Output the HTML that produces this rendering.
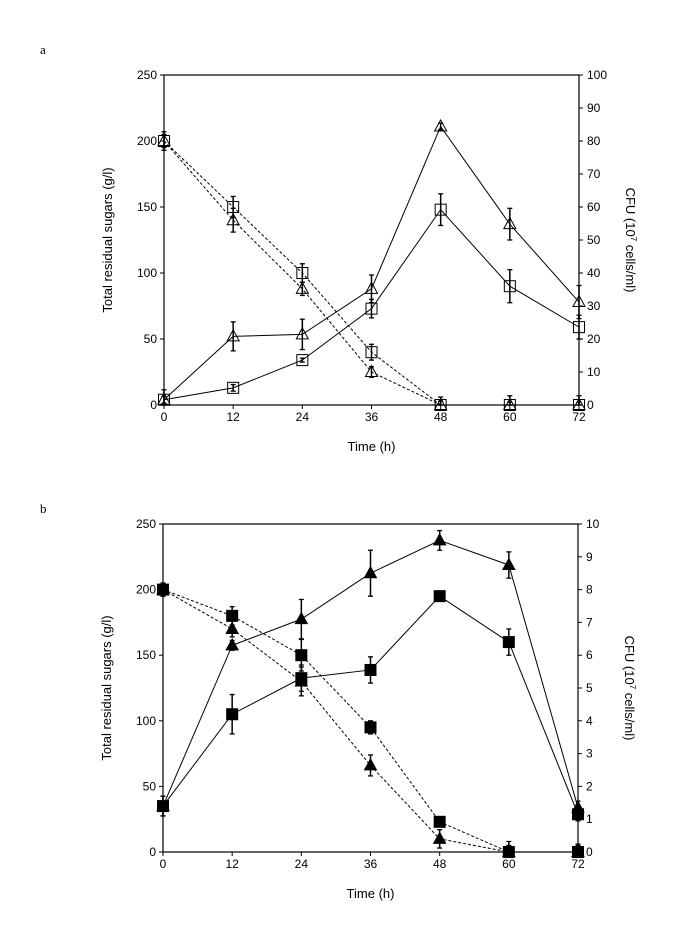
<!DOCTYPE html>
<html><head><meta charset="utf-8">
<style>
html,body{margin:0;padding:0;background:#fff;}
svg{display:block;font-family:"Liberation Sans",Arial,sans-serif;}
</style></head>
<body>
<svg id="fig" width="685" height="941" viewBox="0 0 685 941" xmlns="http://www.w3.org/2000/svg"></svg>
<script>
// ---- data ----
const times = [0, 12, 24, 36, 48, 60, 72];
const xTicks = [0, 12, 24, 36, 48, 60, 72];
const leftTicks = [0, 50, 100, 150, 200, 250];
const rightTicksA = [0,10,20,30,40,50,60,70,80,90,100];
const rightTicksB = [0,1,2,3,4,5,6,7,8,9,10];
// Panel a
const aSugarSq = [200, 150, 100, 40, 0, 0, 0];
const aSugarSqErr = [5, 8, 7, 6, 3, 2, 2];
const aSugarTri = [200, 140, 88, 25, 0, 0, 0];
const aSugarTriErr = [7, 9, 5, 4, 6, 7, 7];
const aCfuTri = [1.6, 20.8, 21.4, 35.2, 84.4, 54.8, 31.2];
const aCfuTriErr = [3, 4.4, 4.6, 4.2, 1, 4.8, 5];
const aCfuSq = [1.6, 5.2, 13.6, 29.2, 59.2, 36, 23.6];
const aCfuSqErr = [1, 1, 0.6, 2.8, 4.8, 5, 3.6];
// Panel b
const bSugarSq = [200, 180, 150, 95, 23, 0, 0];
const bSugarSqErr = [5, 7, 12, 5, 2, 8, 6];
const bSugarTri = [200, 170, 130, 66, 10, 0, 0];
const bSugarTriErr = [5, 6, 11, 8, 7, 5, 5];
const bCfuTri = [1.4, 6.3, 7.1, 8.5, 9.5, 8.75, 1.35];
const bCfuTriErr = [0.3, 0.15, 0.6, 0.7, 0.3, 0.4, 0.2];
const bCfuSq = [1.4, 4.2, 5.3, 5.55, 7.8, 6.4, 1.15];
const bCfuSqErr = [0.3, 0.6, 0.4, 0.4, 0.1, 0.4, 0.2];

const NS = "http://www.w3.org/2000/svg";
const svg = document.getElementById('fig');
function el(tag, attrs, parent) {
  const e = document.createElementNS(NS, tag);
  for (const k in attrs) e.setAttribute(k, attrs[k]);
  (parent || svg).appendChild(e);
  return e;
}

function panel(cfg) {
  const g = el('g', {});
  
  
  const L = cfg.left, R = cfg.right, T = cfg.top, B = cfg.bottom;
  const xs = v => L + (v - 0) / 72 * (R - L);
  const yl = v => B - v / 250 * (B - T);
  const yr = v => B - v / cfg.rmax * (B - T);

  const frame = el('rect', {x: L, y: T, width: R - L, height: B - T, fill: 'none', stroke: '#000', 'stroke-width': 1.2}, g);
  
  

  const fs = 12;
  xTicks.forEach(t => {
    const x = xs(t);
    el('line', {x1: x, y1: B, x2: x, y2: B + 4, stroke: '#000'}, g);
    const tx = el('text', {x: x, y: B + 16, 'font-size': fs, 'text-anchor': 'middle'}, g);
    tx.textContent = t;
    
    
  });
  leftTicks.forEach(t => {
    const y = yl(t);
    el('line', {x1: L - 4, y1: y, x2: L, y2: y, stroke: '#000'}, g);
    const tx = el('text', {x: L - 7, y: y + 4, 'font-size': fs, 'text-anchor': 'end'}, g);
    tx.textContent = t;
    
    
  });
  cfg.rticks.forEach(t => {
    const y = yr(t);
    el('line', {x1: R, y1: y, x2: R + 4, y2: y, stroke: '#000'}, g);
    const tx = el('text', {x: R + 8, y: y + 4, 'font-size': fs, 'text-anchor': 'start'}, g);
    tx.textContent = t;
    
    
  });
  const xt = el('text', {x: (L + R) / 2, y: B + 46, 'font-size': 13, 'text-anchor': 'middle'}, g);
  xt.textContent = 'Time (h)';
  
  
  const cy = (T + B) / 2;
  const yt = el('text', {x: 0, y: 0, 'font-size': 13, 'text-anchor': 'middle', transform: `translate(${L - 52},${cy}) rotate(-90)`}, g);
  yt.textContent = 'Total residual sugars (g/l)';
  
  
  const rt = el('text', {x: 0, y: 0, 'font-size': 13, 'text-anchor': 'middle', transform: `translate(${R + 47},${cy}) rotate(90)`}, g);
  rt.innerHTML = 'CFU (10<tspan font-size="8" dy="-5">7</tspan><tspan dy="5"> cells/ml)</tspan>';
  
  
  const pl = el('text', {x: 40, y: cfg.labelY, 'font-size': 13, 'font-family': 'Liberation Serif, serif'}, g);
  pl.textContent = cfg.label;
  
  

  function series(vals, errs, yf, marker, filled, dashed, name) {
    const sg = el('g', {}, g);
    
    
    const pts = vals.map((v, i) => xs(times[i]) + ',' + yf(v)).join(' ');
    el('polyline', {points: pts, fill: 'none', stroke: '#000', 'stroke-width': 1, 'stroke-dasharray': dashed ? '3,2' : 'none'}, sg);
    vals.forEach((v, i) => {
      const x = xs(times[i]), y = yf(v);
      const e1 = yf(v + errs[i]), e2 = yf(Math.max(v - errs[i], 0));
      el('line', {x1: x, y1: e1, x2: x, y2: e2, stroke: '#000', 'stroke-width': 1.5}, sg);
      el('line', {x1: x - 2.5, y1: e1, x2: x + 2.5, y2: e1, stroke: '#000', 'stroke-width': 1.3}, sg);
      el('line', {x1: x - 2.5, y1: e2, x2: x + 2.5, y2: e2, stroke: '#000', 'stroke-width': 1.3}, sg);
      let m;
      if (marker === 'sq') {
        m = el('rect', {x: x - 5.5, y: y - 5.5, width: 11, height: 11, fill: filled ? '#000' : '#fff', 'fill-opacity': filled ? 1 : 0, stroke: '#000', 'stroke-width': 1}, sg);
      } else {
        m = el('polygon', {points: `${x},${y - 6.5} ${x + 6},${y + 4.5} ${x - 6},${y + 4.5}`, fill: filled ? '#000' : 'none', stroke: '#000', 'stroke-width': 1}, sg);
      }
      
      
    });
  }
  cfg.series.forEach(s => series(s.vals, s.errs, s.axis === 'r' ? yr : yl, s.marker, cfg.filled, s.dashed, s.name));
}

panel({name: 'panel-a', label: 'a', labelY: 54, left: 164, right: 579, top: 75, bottom: 405, rmax: 100, rticks: rightTicksA, filled: false,
  series: [
    {vals: aSugarSq, errs: aSugarSqErr, axis: 'l', marker: 'sq', dashed: true, name: 'sugar-square-series'},
    {vals: aSugarTri, errs: aSugarTriErr, axis: 'l', marker: 'tri', dashed: true, name: 'sugar-triangle-series'},
    {vals: aCfuSq, errs: aCfuSqErr, axis: 'r', marker: 'sq', dashed: false, name: 'cfu-square-series'},
    {vals: aCfuTri, errs: aCfuTriErr, axis: 'r', marker: 'tri', dashed: false, name: 'cfu-triangle-series'}
  ]});
panel({name: 'panel-b', label: 'b', labelY: 513, left: 163, right: 578, top: 524, bottom: 852, rmax: 10, rticks: rightTicksB, filled: true,
  series: [
    {vals: bSugarTri, errs: bSugarTriErr, axis: 'l', marker: 'tri', dashed: true, name: 'sugar-triangle-series'},
    {vals: bSugarSq, errs: bSugarSqErr, axis: 'l', marker: 'sq', dashed: true, name: 'sugar-square-series'},
    {vals: bCfuTri, errs: bCfuTriErr, axis: 'r', marker: 'tri', dashed: false, name: 'cfu-triangle-series'},
    {vals: bCfuSq, errs: bCfuSqErr, axis: 'r', marker: 'sq', dashed: false, name: 'cfu-square-series'}
  ]});
</script>
</body></html>
